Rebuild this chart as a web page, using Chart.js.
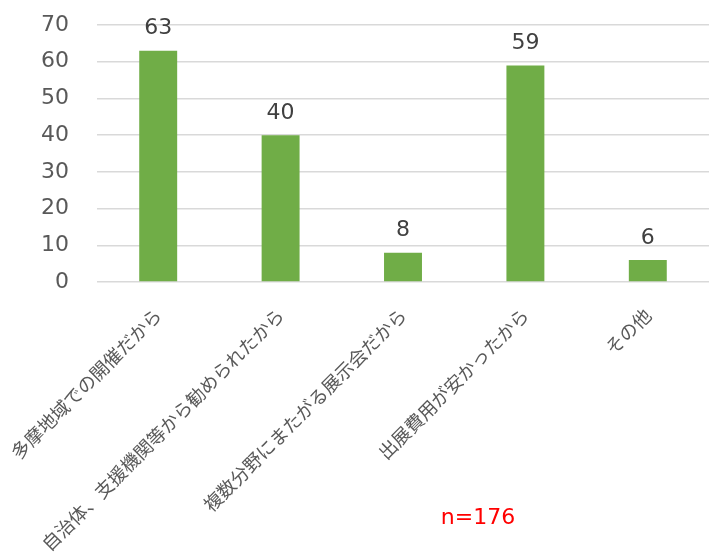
<!DOCTYPE html>
<html>
<head>
<meta charset="utf-8">
<script src="https://cdn.jsdelivr.net/npm/chart.js@4/dist/chart.umd.min.js"></script>
<style>
  html, body { margin: 0; padding: 0; background: #fff; }
  #wrap { width: 709px; height: 552px; }
</style>
</head>
<body>
<div id="wrap"><canvas id="chartReasons"></canvas></div>
<script>
const categories = [
    '多摩地域での開催だから',
    '自治体、支援機関等から勧められたから',
    '複数分野にまたがる展示会だから',
    '出展費用が安かったから',
    'その他'
];
const counts = [63, 40, 8, 59, 6];
const sampleNote = 'n=176';

const numFont = '"DejaVu Sans", Verdana, sans-serif';
const jpFont = '"Noto Sans CJK JP", "Noto Sans", sans-serif';

const valueLabels = {
    id: 'valueLabels',
    afterDatasetsDraw(chart) {
        const ctx = chart.ctx;
        const meta = chart.getDatasetMeta(0);
        ctx.save();
        ctx.fillStyle = '#404040';
        ctx.font = '22px ' + numFont;
        ctx.textAlign = 'center';
        ctx.textBaseline = 'bottom';
        meta.data.forEach((bar, i) => {
            ctx.fillText(String(counts[i]), bar.x, bar.y - 11);
        });
        // sample size note
        ctx.fillStyle = '#ff0000';
        ctx.font = '22px ' + numFont;
        ctx.textBaseline = 'middle';
        ctx.fillText(sampleNote, 478, 518);
        ctx.restore();
    }
};

const data = {
    labels: categories,
    datasets: [{
        data: counts,
        backgroundColor: '#70ad47',
        borderWidth: 0,
        barPercentage: 0.31,
        categoryPercentage: 1.0
    }]
};

const config = {
    type: 'bar',
    data: data,
    options: {
        responsive: true,
        maintainAspectRatio: false,
        animation: false,
        layout: { padding: { left: 0, right: 0, top: 25, bottom: 0 } },
        plugins: {
            legend: { display: false },
            tooltip: { enabled: false }
        },
        scales: {
            x: {
                grid: { display: false },
                border: { display: false },
                ticks: {
                    color: '#595959',
                    font: { family: jpFont, size: 18.5 },
                    minRotation: 45,
                    maxRotation: 45,
                    autoSkip: false,
                    padding: 14
                },
                afterFit(scale) {
                    scale.height = 270;
                    scale.paddingLeft = 0;
                    scale.paddingRight = 0;
                }
            },
            y: {
                min: 0,
                max: 70,
                grid: { color: '#d9d9d9', lineWidth: 1.5, drawTicks: false },
                border: { display: false },
                ticks: {
                    stepSize: 10,
                    color: '#595959',
                    font: { family: numFont, size: 22 },
                    padding: 28
                },
                afterFit(scale) {
                    scale.width = 97;
                    scale.paddingTop = 0;
                    scale.paddingBottom = 0;
                }
            }
        }
    },
    plugins: [valueLabels]
};

new Chart(document.getElementById('chartReasons'), config);
</script>
</body>
</html>
